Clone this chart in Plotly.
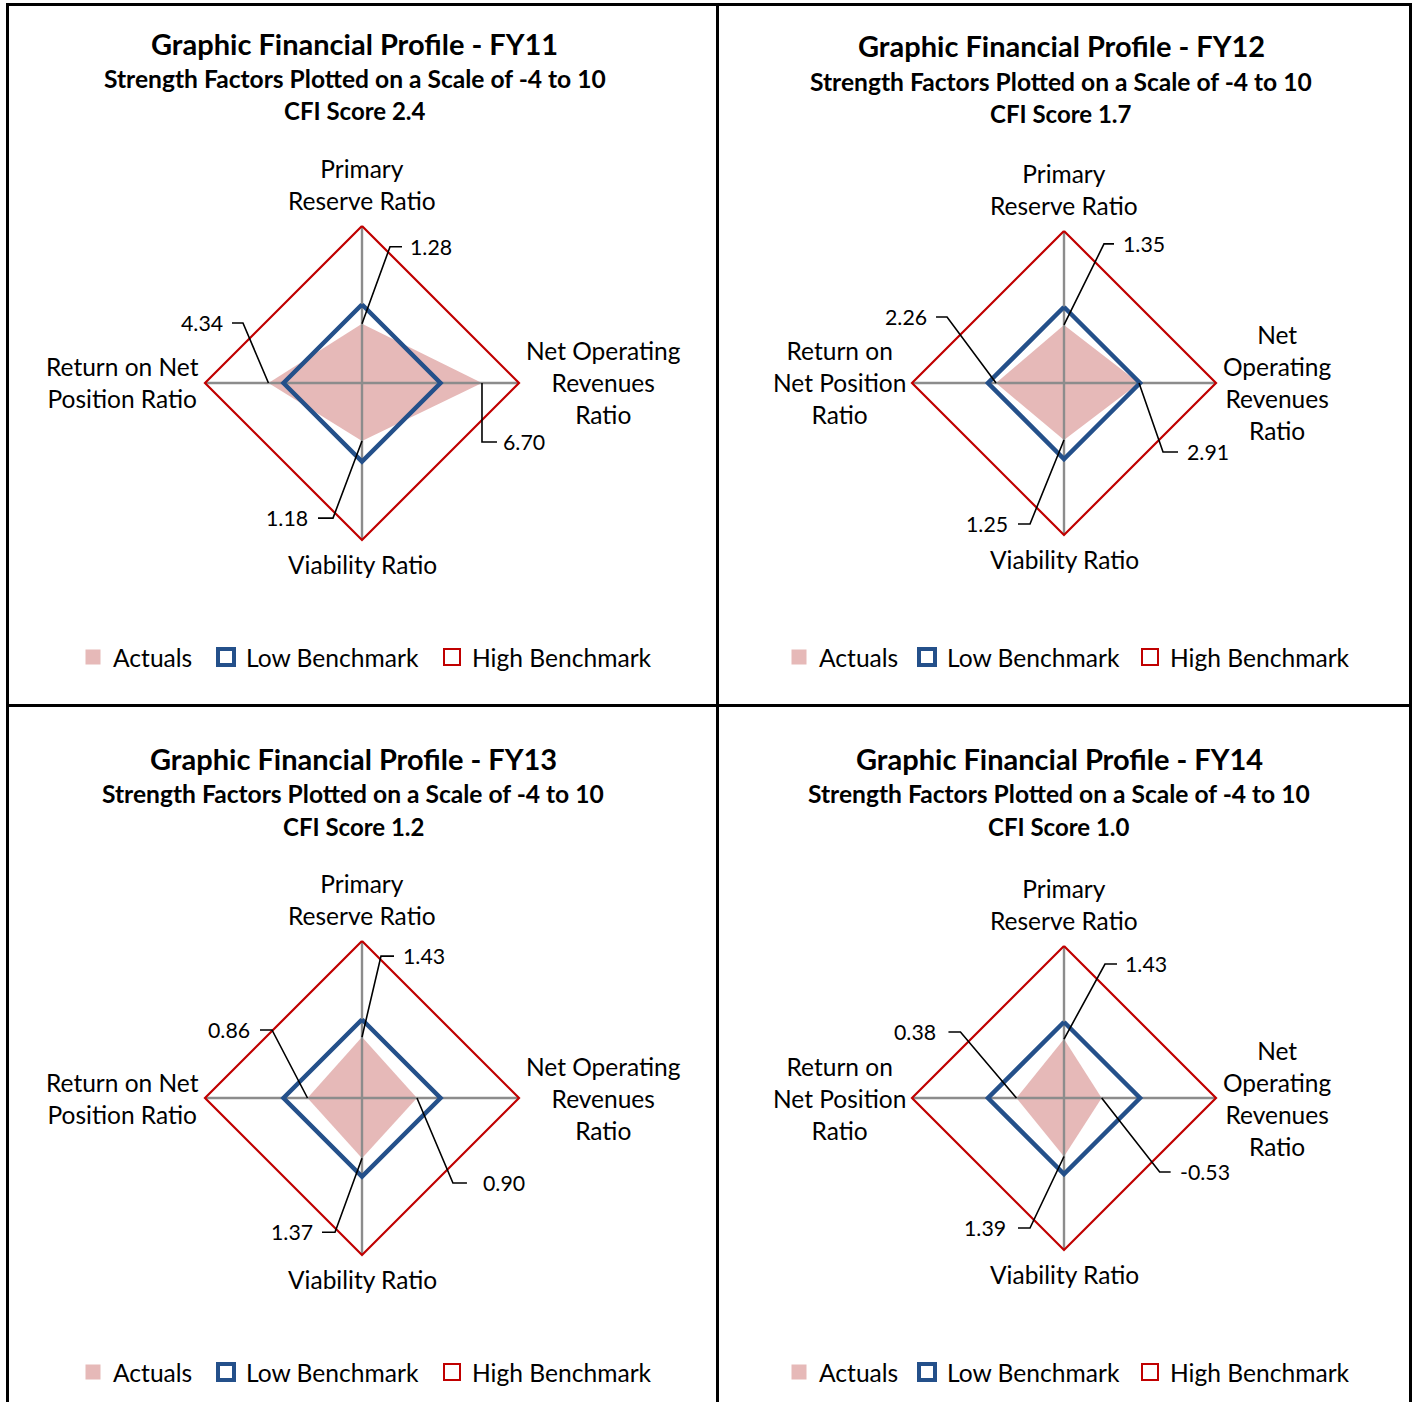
import math
import plotly.graph_objects as go

# ---------------- data ----------------
CATEGORIES = ["Primary Reserve Ratio", "Net Operating Revenues Ratio",
              "Viability Ratio", "Return on Net Position Ratio"]
YEARS = ["FY11", "FY12", "FY13", "FY14"]
CFI_SCORES = ["2.4", "1.7", "1.2", "1.0"]
ACTUALS_FY11 = [1.28, 6.70, 1.18, 4.34]
ACTUALS_FY12 = [1.35, 2.91, 1.25, 2.26]
ACTUALS_FY13 = [1.43, 0.90, 1.37, 0.86]
ACTUALS_FY14 = [1.43, -0.53, 1.39, 0.38]
LOW_BENCHMARK = [3, 3, 3, 3]
HIGH_BENCHMARK = [10, 10, 10, 10]
SCALE_MIN, SCALE_MAX = -4, 10
SERIES_NAMES = ["Actuals", "Low Benchmark", "High Benchmark"]
TITLE_TEXT = "Graphic Financial Profile - {}"
SUBTITLE_TEXT = "Strength Factors Plotted on a Scale of -4 to 10"
CFI_TEXT = "CFI Score {}"
LABELS_WIDE = ["Primary<br>Reserve Ratio", "Net Operating<br>Revenues<br>Ratio",
               "Viability Ratio", "Return on Net<br>Position Ratio"]
LABELS_NARROW = ["Primary<br>Reserve Ratio", "Net<br>Operating<br>Revenues<br>Ratio",
                 "Viability Ratio", "Return on<br>Net Position<br>Ratio"]
ACTUALS = [ACTUALS_FY11, ACTUALS_FY12, ACTUALS_FY13, ACTUALS_FY14]

# ---------------- layout / style ----------------
W, H = 1416, 1402
FONT = "Lato, Carlito, Calibri, sans-serif"
PINK, BLUE, RED, GRAY = "#E6B9B8", "#24508A", "#C00000", "#8C8C8C"
ANGLES = [0, 90, 180, 270]   # clockwise from the top
PANEL_BOX = [(9, 716, 6, 704), (719, 1409, 6, 704),
             (9, 716, 707, 1402), (719, 1409, 707, 1402)]
CENTER = [(362, 383), (1064, 383), (362, 1098), (1064, 1098)]
RADIUS = [157, 152, 157, 152]
TITLE_X = [355, 1061, 353, 1059]
TITLE_Y = [(43, 79, 111), (46, 81, 113), (758, 794, 826), (758, 794, 826)]
# legend entry text start (px) for each series, and legend row centre
LEGEND_TEXT_X = [(113, 246, 472), (819, 947, 1170), (113, 246, 472), (819, 947, 1170)]
LEGEND_Y = [657, 657, 1372, 1372]
WIDE = [True, False, True, False]
# leader line: elbow offset (px, y down) from the point, side, horizontal length, text gap
LEADERS = [
    [(28, -77, 1, 12, 8), (0, 59, 1, 15, 6), (-29, 77, -1, 15, 10), (-25.5, -60, -1, 11, 9)],
    [(40, -81, 1, 10, 9), (24, 69, 1, 15, 9), (-34, 84, -1, 12, 10), (-49, -66, -1, 11, 9)],
    [(19, -81, 1, 13, 9), (36, 85, 1, 14, 16), (-27, 74, -1, 13, 9), (-35.5, -68, -1, 12, 10)],
    [(41, -75, 1, 12, 8), (58, 74, 1, 11, 9), (-34, 71.5, -1, 12, 12), (-56, -66, -1, 12, 12)],
]
LEGEND_MARKERS = [
    dict(symbol="square", size=15, color=PINK),
    dict(symbol="square-open", size=16, color=BLUE, line=dict(width=4, color=BLUE)),
    dict(symbol="square-open", size=16, color=RED, line=dict(width=2, color=RED)),
]


def to_xy(v, j):
    r = v - SCALE_MIN
    a = math.radians(ANGLES[j])
    return round(r * math.sin(a), 9), round(r * math.cos(a), 9)


def polygon(values):
    pts = [to_xy(v, j) for j, v in enumerate(values)]
    pts.append(pts[0])
    return [p[0] for p in pts], [p[1] for p in pts]


fig = go.Figure()
annotations = []
layout_extra = {}
legend_count = 0

for p, year in enumerate(YEARS):
    sfx = "" if p == 0 else str(p + 1)
    xa, ya = "x" + sfx, "y" + sfx
    cx, cy = CENTER[p]
    k = RADIUS[p] / (SCALE_MAX - SCALE_MIN)
    x0, x1, y0, y1 = PANEL_BOX[p]
    layout_extra["xaxis" + sfx] = dict(domain=[x0 / W, x1 / W], range=[(x0 - cx) / k, (x1 - cx) / k],
                                       visible=False, fixedrange=True, anchor=ya)
    layout_extra["yaxis" + sfx] = dict(domain=[1 - y1 / H, 1 - y0 / H], range=[(cy - y1) / k, (cy - y0) / k],
                                       visible=False, fixedrange=True, anchor=xa)

    # spokes
    sx, sy = [], []
    for j in range(len(CATEGORIES)):
        ex, ey = to_xy(SCALE_MAX, j)
        sx += [0, ex, None]
        sy += [0, ey, None]

    ax_, ay_ = polygon(ACTUALS[p])
    fig.add_trace(go.Scatter(x=ax_, y=ay_, mode="lines", fill="toself", fillcolor=PINK,
                             line=dict(width=0, color=PINK), showlegend=False, hoverinfo="skip",
                             xaxis=xa, yaxis=ya))
    fig.add_trace(go.Scatter(x=sx, y=sy, mode="lines", line=dict(color=GRAY, width=2.4),
                             showlegend=False, hoverinfo="skip", xaxis=xa, yaxis=ya))
    lx, ly = polygon(LOW_BENCHMARK)
    fig.add_trace(go.Scatter(x=lx, y=ly, mode="lines", line=dict(color=BLUE, width=4.5),
                             showlegend=False, hoverinfo="skip", xaxis=xa, yaxis=ya))
    hx, hy = polygon(HIGH_BENCHMARK)
    fig.add_trace(go.Scatter(x=hx, y=hy, mode="lines", line=dict(color=RED, width=2.2),
                             showlegend=False, hoverinfo="skip", xaxis=xa, yaxis=ya))

    # leader lines + data labels
    lxs, lys = [], []
    for j, v in enumerate(ACTUALS[p]):
        px, py = to_xy(v, j)
        dx, dy, side, hl, gap = LEADERS[p][j]
        exx, eyy = px + dx / k, py - dy / k
        endx = exx + side * hl / k
        lxs += [px, exx, endx, None]
        lys += [py, eyy, eyy, None]
        annotations.append(dict(x=endx, y=eyy, xref=xa, yref=ya, text=f"{v:.2f}", showarrow=False,
                                xanchor="left" if side > 0 else "right", yanchor="middle",
                                xshift=side * (gap - 2), font=dict(family=FONT, size=21.3, color="#000")))
    fig.add_trace(go.Scatter(x=lxs, y=lys, mode="lines", line=dict(color="#000", width=1.6),
                             showlegend=False, hoverinfo="skip", xaxis=xa, yaxis=ya))

    # category labels
    labels = LABELS_WIDE if WIDE[p] else LABELS_NARROW
    anchors = [("center", "bottom", 0, 9), ("left", "middle", 5, 0),
               ("center", "top", 0, -8), ("right", "middle", -4, 0)]
    for j in range(len(CATEGORIES)):
        vx, vy = to_xy(SCALE_MAX, j)
        xan, yan, xs, ys = anchors[j]
        annotations.append(dict(x=vx, y=vy, xref=xa, yref=ya, text=labels[j], showarrow=False,
                                xanchor=xan, yanchor=yan, xshift=xs, yshift=ys, align="center",
                                font=dict(family=FONT, size=24.5, color="#000")))

    # titles
    ty = TITLE_Y[p]
    for txt, yy, sz in [(TITLE_TEXT.format(year), ty[0], 29), (SUBTITLE_TEXT, ty[1], 24.6),
                        (CFI_TEXT.format(CFI_SCORES[p]), ty[2], 24)]:
        annotations.append(dict(x=TITLE_X[p] / W, y=1 - yy / H, xref="paper", yref="paper",
                                text="<b>" + txt + "</b>", showarrow=False, xanchor="center",
                                yanchor="middle", font=dict(family=FONT, size=sz, color="#000")))

    # legend entries (one legend box per series so each entry sits where it should)
    for s, name in enumerate(SERIES_NAMES):
        legend_count += 1
        leg = "legend" if legend_count == 1 else "legend" + str(legend_count)
        fig.add_trace(go.Scatter(x=[None], y=[None], mode="markers", name=name, legend=leg,
                                 marker=LEGEND_MARKERS[s], xaxis=xa, yaxis=ya, hoverinfo="skip"))
        layout_extra[leg] = dict(x=(LEGEND_TEXT_X[p][s] - 40) / W, y=1 - LEGEND_Y[p] / H,
                                 xanchor="left", yanchor="middle", orientation="h",
                                 bgcolor="rgba(0,0,0,0)", borderwidth=0,
                                 font=dict(family=FONT, size=24.6, color="#000"),
                                 itemclick=False, itemdoubleclick=False)

# panel frame lines
shapes = []
def hline(y, xa0, xa1):
    shapes.append(dict(type="line", xref="paper", yref="paper", x0=xa0 / W, x1=xa1 / W,
                       y0=1 - y / H, y1=1 - y / H, line=dict(color="#000", width=3)))
def vline(x, ya0, ya1):
    shapes.append(dict(type="line", xref="paper", yref="paper", x0=x / W, x1=x / W,
                       y0=1 - ya0 / H, y1=1 - ya1 / H, line=dict(color="#000", width=3)))
hline(4.5, 6, 1412)
hline(705.5, 6, 1412)
vline(7.5, 3, 1402)
vline(717.5, 3, 1402)
vline(1410.5, 3, 1402)

fig.update_layout(width=W, height=H, margin=dict(l=0, r=0, t=0, b=0),
                  paper_bgcolor="white", plot_bgcolor="white",
                  showlegend=True, annotations=annotations, shapes=shapes,
                  font=dict(family=FONT, color="#000"), **layout_extra)

fig.write_html("out.html")
